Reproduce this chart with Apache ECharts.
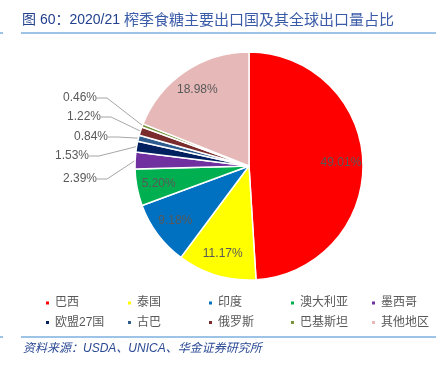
<!DOCTYPE html>
<html><head><meta charset="utf-8">
<script src="https://cdn.jsdelivr.net/npm/echarts@6/dist/echarts.min.js"></script>
<style>html,body{margin:0;padding:0;background:#fff}#c{width:441px;height:372px}</style>
</head><body><div id="c"></div>
<script>
const categories = ['巴西','泰国','印度','澳大利亚','墨西哥','欧盟27国','古巴','俄罗斯','巴基斯坦','其他地区'];
const shares = [49.01,11.17,9.18,5.20,2.39,1.53,0.84,1.22,0.46,18.98];
const colors = ['#FF0000','#FFFF00','#0070C0','#00B050','#7030A0','#002060','#2F5C8F','#7B2C2C','#77933C','#E6B9B8'];
const outsideIdx = [4,5,6,7,8];
const outsideLabelPos = {8:[97,98],7:[101,117],6:[108,137],5:[89,156],4:[97,179]};
const legendColumns = [[0,5],[1,6],[2,7],[3,8],[4,9]];
const legendColX = [44,126,207,289,370];

const CX = 249, CY = 166, R = 114;
const textColor = '#595959';
const fontFam = '"Liberation Sans", Arial, "Noto Sans CJK SC", sans-serif';

const mainData = categories.map((n,i)=>({
  name:n, value:shares[i],
  itemStyle:{color:colors[i]},
  label:{show: outsideIdx.includes(i)},
  labelLine:{show: outsideIdx.includes(i)}
}));
const innerData = categories.map((n,i)=>({
  name:n, value:shares[i],
  label:{show: !outsideIdx.includes(i)}
}));

const legends = legendColumns.map((col,k)=>({
  orient:'vertical', left:legendColX[k], top:296, itemWidth:5, itemHeight:5, itemGap:5.5, icon:'rect',
  selectedMode:false, padding:0,
  data:col.map(i=>({name:categories[i], itemStyle:{color:colors[i]}})),
  textStyle:{color:textColor, fontSize:12, lineHeight:14, fontFamily:fontFam}
}));

const chart = echarts.init(document.getElementById('c'));
chart.setOption({
  animation:false,
  graphic:[
    {type:'text', left:22, top:13, style:{
      text:'{a|图 60：2020/21 }{b|榨季食糖主要出口国及其全球出口量占比}',
      rich:{a:{fill:'#23418F', font:'14px '+fontFam}, b:{fill:'#3A5BA8', font:'15px '+fontFam}}}},
    {type:'line', shape:{x1:21,y1:33,x2:436,y2:33}, style:{stroke:'#9DC3E6', lineWidth:2}},
    {type:'line', shape:{x1:0,y1:33,x2:3,y2:33}, style:{stroke:'#9DC3E6', lineWidth:2}},
    {type:'line', shape:{x1:21,y1:337,x2:436,y2:337}, style:{stroke:'#9DC3E6', lineWidth:2}},
    {type:'line', shape:{x1:0,y1:337,x2:3,y2:337}, style:{stroke:'#9DC3E6', lineWidth:2}},
    {type:'text', left:23, top:343, style:{text:'资料来源：USDA、UNICA、华金证券研究所', fill:'#2B4A94', font:'italic 12px '+fontFam}}
  ],
  legend:legends,
  series:[
    {type:'pie', name:'main', center:[CX,CY], radius:R, startAngle:90, clockwise:true,
     avoidLabelOverlap:false, silent:true,
     itemStyle:{borderColor:'#fff', borderWidth:1.5},
     label:{position:'outside', color:textColor, fontSize:12, fontFamily:fontFam,
            formatter:p=>p.value.toFixed(2)+'%'},
     labelLine:{lineStyle:{color:'#A6A6A6', width:1}, length:10, length2:10},
     labelLayout:function(p){
       const pos = outsideLabelPos[p.dataIndex];
       if(!pos) return {};
       return {x:pos[0], y:pos[1], align:'right', verticalAlign:'middle'};
     },
     data:mainData},
    {type:'pie', name:'inner', center:[CX,CY], radius:[64,R], startAngle:90, clockwise:true,
     silent:true, legendHoverLink:false,
     itemStyle:{color:'rgba(0,0,0,0)', borderWidth:0},
     label:{position:'inside', color:textColor, fontSize:12, fontFamily:fontFam,
            formatter:p=>p.value.toFixed(2)+'%'},
     labelLine:{show:false},
     data:innerData}
  ]
});
</script></body></html>
